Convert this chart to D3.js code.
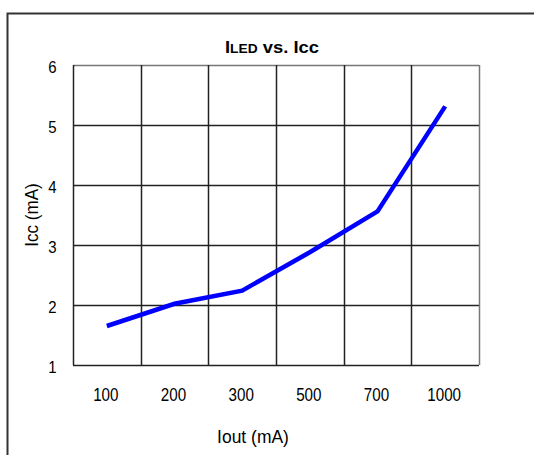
<!DOCTYPE html>
<html>
<head>
<meta charset="utf-8">
<script src="https://d3js.org/d3.v7.min.js"></script>
<style>
  body { margin: 0; background: #fff; }
  text { font-family: "Liberation Sans", Arial, sans-serif; fill: #000; }
</style>
</head>
<body>
<script>
// data
var iout = ["100", "200", "300", "500", "700", "1000"];
var icc = [1.65, 2.02, 2.24, 2.88, 3.56, 5.31];
var yTicks = [1, 2, 3, 4, 5, 6];

var width = 534, height = 455;
var plotL = 73, plotR = 479, plotT = 65, plotB = 365;

var svg = d3.select("body").append("svg")
    .attr("width", width)
    .attr("height", height);

// outer frame (only top and left edges show in the picture)
svg.append("path")
    .attr("d", "M7.5," + height + "V13.5H" + width)
    .attr("fill", "none")
    .attr("stroke", "#333")
    .attr("stroke-width", 2);

var x = d3.scaleBand().domain(iout).range([plotL, plotR]);
var y = d3.scaleLinear().domain([1, 6]).range([plotB, plotT]);

// horizontal grid
svg.append("g").selectAll("line")
    .data(yTicks)
    .enter().append("line")
    .attr("x1", plotL).attr("x2", plotR)
    .attr("y1", function (d) { return Math.round(y(d)) + 0.5; })
    .attr("y2", function (d) { return Math.round(y(d)) + 0.5; })
    .attr("stroke", function (d) { return d === 6 ? "#777" : "#222"; })
    .attr("stroke-width", 1.5);

// vertical grid at band edges
var edges = iout.map(function (d) { return x(d); }).concat([plotR]);
svg.append("g").selectAll("line")
    .data(edges)
    .enter().append("line")
    .attr("x1", function (d) { return Math.round(d) + 0.5; })
    .attr("x2", function (d) { return Math.round(d) + 0.5; })
    .attr("y1", plotT).attr("y2", plotB)
    .attr("stroke", function (d, i) { return i === edges.length - 1 ? "#777" : "#222"; })
    .attr("stroke-width", 1.5);

// y tick labels
svg.append("g").selectAll("text")
    .data(yTicks)
    .enter().append("text")
    .attr("transform", function (d) { return "translate(56.5," + y(d) + ") scale(0.88,1)"; })
    .attr("dy", "0.45em")
    .attr("text-anchor", "end")
    .style("font-size", "17px")
    .text(function (d) { return d; });

// x tick labels
svg.append("g").selectAll("text")
    .data(iout)
    .enter().append("text")
    .attr("transform", function (d) {
      return "translate(" + (x(d) + x.bandwidth() / 2 - 1) + ",401) scale(0.8,1)";
    })
    .attr("text-anchor", "middle")
    .style("font-size", "19px")
    .text(function (d) { return d; });

// the series
var line = d3.line()
    .x(function (d, i) { return x(iout[i]) + x.bandwidth() / 2; })
    .y(function (d) { return y(d); });

svg.append("path")
    .datum(icc)
    .attr("d", line)
    .attr("fill", "none")
    .attr("stroke", "#0000ff")
    .attr("stroke-width", 4.5);

// title, LED in small caps
var title = svg.append("text")
    .attr("x", 225)
    .attr("y", 53)
    .attr("textLength", 94)
    .attr("lengthAdjust", "spacingAndGlyphs")
    .style("font-weight", "bold")
    .style("font-size", "16px");
title.append("tspan").text("I");
title.append("tspan").style("font-size", "12px").text("LED");
title.append("tspan").text(" vs. Icc");

// axis titles
svg.append("text")
    .attr("transform", "translate(253,443) scale(0.92,1)")
    .attr("text-anchor", "middle")
    .style("font-size", "19px")
    .text("Iout (mA)");

svg.append("text")
    .attr("transform", "translate(37.5,215) rotate(-90) scale(0.9,1)")
    .attr("text-anchor", "middle")
    .style("font-size", "19px")
    .text("Icc (mA)");
</script>
</body>
</html>
